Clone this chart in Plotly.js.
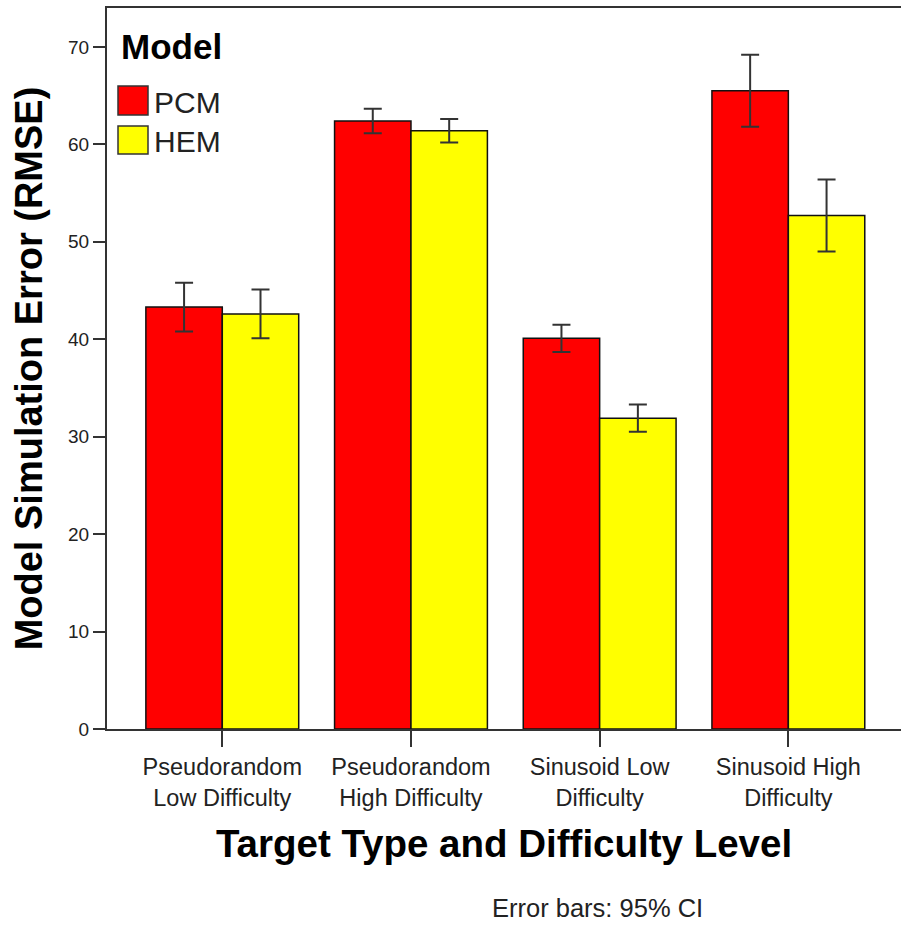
<!DOCTYPE html>
<html>
<head>
<meta charset="utf-8">
<script src="https://cdn.plot.ly/plotly-3.0.1.min.js"></script>
<style>
html,body{margin:0;padding:0;background:#fff;}
#chart{width:901px;height:933px;}
</style>
</head>
<body>
<div id="chart"></div>
<script>
// ---- data ----
var categories = ["Pseudorandom<br>Low Difficulty", "Pseudorandom<br>High Difficulty", "Sinusoid Low<br>Difficulty", "Sinusoid High<br>Difficulty"];
var seriesNames = ["PCM", "HEM"];
var pcmValues = [43.3, 62.4, 40.1, 65.5];
var pcmCI = [2.5, 1.25, 1.4, 3.7];
var hemValues = [42.6, 61.4, 31.9, 52.7];
var hemCI = [2.5, 1.2, 1.4, 3.7];
var yTickValues = [0, 10, 20, 30, 40, 50, 60, 70];

// ---- layout helpers ----
var W = 901, H = 933;
var M = {l: 107, r: 0, t: 8, b: 204};
function px(x) { return (x - M.l) / (W - M.l - M.r); }
function py(y) { return (H - M.b - y) / (H - M.t - M.b); }

var colors = ["#FF0000", "#FFFF00"];
var font = "Liberation Sans, Arial, sans-serif";

function barTrace(name, vals, ci, color) {
  return {
    type: "bar",
    name: name,
    x: categories,
    y: vals,
    marker: {color: color, line: {color: "#111", width: 1.5}},
    error_y: {type: "data", array: ci, visible: true, color: "#333", thickness: 2, width: 9},
    showlegend: false,
    hoverinfo: "none"
  };
}

var data = [
  barTrace(seriesNames[0], pcmValues, pcmCI, colors[0]),
  barTrace(seriesNames[1], hemValues, hemCI, colors[1])
];

var layout = {
  width: W, height: H,
  margin: M,
  paper_bgcolor: "#fff",
  plot_bgcolor: "#fff",
  barmode: "group",
  bargap: 0.19,
  bargroupgap: 0,
  font: {family: font, color: "#222"},
  xaxis: {
    type: "category",
    range: [-0.611, 3.597],
    showline: true, linecolor: "#333", linewidth: 2, mirror: true,
    ticks: "outside", ticklen: 16, tickwidth: 2, tickcolor: "#333",
    tickfont: {family: font, size: 23.5, color: "#222"},
    showgrid: false, zeroline: false,
    title: {text: "Target Type and Difficulty Level", font: {family: font, size: 38.5, color: "#000", weight: "bold"}, standoff: 20}
  },
  yaxis: {
    range: [0, 74],
    tickvals: yTickValues,
    ticktext: yTickValues.map(String),
    showline: true, linecolor: "#333", linewidth: 2,
    ticks: "outside", ticklen: 12, tickwidth: 2, tickcolor: "#333",
    tickfont: {family: font, size: 19, color: "#222"},
    showgrid: false, zeroline: false,
    title: {text: "Model Simulation Error (RMSE)", font: {family: font, size: 38, color: "#000", weight: "bold"}, standoff: 14}
  },
  shapes: [
    {type: "rect", xref: "paper", yref: "paper", x0: px(118), x1: px(148), y0: py(115), y1: py(86),
     fillcolor: colors[0], line: {color: "#333", width: 1.5}},
    {type: "rect", xref: "paper", yref: "paper", x0: px(118), x1: px(148), y0: py(154), y1: py(126),
     fillcolor: colors[1], line: {color: "#333", width: 1.5}}
  ],
  annotations: [
    {text: "<b>Model</b>", xref: "paper", yref: "paper", x: px(119), y: py(47), xanchor: "left", yanchor: "middle",
     showarrow: false, font: {family: font, size: 35, color: "#000"}},
    {text: seriesNames[0], xref: "paper", yref: "paper", x: px(152), y: py(102), xanchor: "left", yanchor: "middle",
     showarrow: false, font: {family: font, size: 30, color: "#222"}},
    {text: seriesNames[1], xref: "paper", yref: "paper", x: px(152), y: py(141), xanchor: "left", yanchor: "middle",
     showarrow: false, font: {family: font, size: 30, color: "#222"}},
    {text: "Error bars: 95% CI", xref: "paper", yref: "paper", x: px(597), y: py(908), xanchor: "center", yanchor: "middle",
     showarrow: false, font: {family: font, size: 25.5, color: "#222"}}
  ]
};

Plotly.newPlot("chart", data, layout, {displayModeBar: false, staticPlot: true});
</script>
</body>
</html>
